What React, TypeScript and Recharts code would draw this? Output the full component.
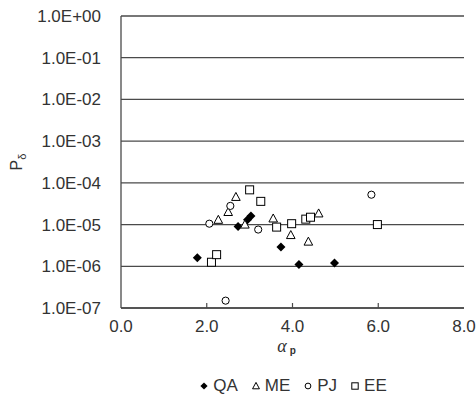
import React from 'react'
import {
  ScatterChart,
  Scatter,
  XAxis,
  YAxis,
  CartesianGrid,
  Legend,
} from 'recharts'

type Pt = { a: number; p: number }

// alpha_p vs P (log scale)
const QA: Pt[] = [
  { a: 1.78, p: 1.6e-6 },
  { a: 2.73, p: 9.0e-6 },
  { a: 2.95, p: 1.3e-5 },
  { a: 3.03, p: 1.6e-5 },
  { a: 3.73, p: 2.9e-6 },
  { a: 4.15, p: 1.1e-6 },
  { a: 4.98, p: 1.2e-6 },
]

const ME: Pt[] = [
  { a: 2.27, p: 1.3e-5 },
  { a: 2.5, p: 2.0e-5 },
  { a: 2.68, p: 4.6e-5 },
  { a: 2.89, p: 1.0e-5 },
  { a: 3.55, p: 1.4e-5 },
  { a: 3.96, p: 5.6e-6 },
  { a: 4.37, p: 3.9e-6 },
  { a: 4.61, p: 1.85e-5 },
]

const PJ: Pt[] = [
  { a: 2.06, p: 1.05e-5 },
  { a: 2.55, p: 2.8e-5 },
  { a: 3.2, p: 7.6e-6 },
  { a: 2.44, p: 1.5e-7 },
  { a: 5.84, p: 5.2e-5 },
]

const EE: Pt[] = [
  { a: 2.11, p: 1.25e-6 },
  { a: 2.23, p: 1.9e-6 },
  { a: 3.0, p: 6.8e-5 },
  { a: 3.26, p: 3.6e-5 },
  { a: 3.63, p: 8.7e-6 },
  { a: 3.98, p: 1.05e-5 },
  { a: 4.31, p: 1.35e-5 },
  { a: 4.42, p: 1.5e-5 },
  { a: 5.98, p: 1.0e-5 },
]

const X_TICKS = [0, 2, 4, 6, 8]
const Y_TICKS = [1e-7, 1e-6, 1e-5, 1e-4, 1e-3, 1e-2, 1e-1, 1]

const SERIES = [
  { key: 'QA', data: QA, shape: 'diamond' },
  { key: 'ME', data: ME, shape: 'triangle' },
  { key: 'PJ', data: PJ, shape: 'circle' },
  { key: 'EE', data: EE, shape: 'square' },
]

const FONT = '"Liberation Sans", Arial, sans-serif'
const INK = '#333'
const LINE = '#4a4a4a'

function fmtExp(v: number) {
  const e = Math.round(Math.log10(v))
  return `1.0E${e < 0 ? '-' : '+'}${String(Math.abs(e)).padStart(2, '0')}`
}

function Marker({ kind, cx, cy, s = 1 }: { kind: string; cx: number; cy: number; s?: number }) {
  if (kind === 'diamond') {
    const r = 4.5 * s
    return <path d={`M${cx},${cy - r}L${cx + r},${cy}L${cx},${cy + r}L${cx - r},${cy}Z`} fill="#000" />
  }
  if (kind === 'triangle') {
    const w = 4.3 * s
    return (
      <path
        d={`M${cx},${cy - 4.5 * s}L${cx + w},${cy + 3.5 * s}L${cx - w},${cy + 3.5 * s}Z`}
        fill="#fff"
        stroke="#000"
        strokeWidth={1}
      />
    )
  }
  if (kind === 'circle') {
    return <circle cx={cx} cy={cy} r={3.6 * s} fill="#fff" stroke="#000" strokeWidth={1} />
  }
  const h = 4 * s
  return <rect x={cx - h} y={cy - h} width={2 * h} height={2 * h} fill="#fff" stroke="#000" strokeWidth={1} />
}

// eslint-disable-next-line @typescript-eslint/no-explicit-any
function XTick({ x, y, payload }: any) {
  const v = payload.value
  return (
    <g>
      {v !== 0 && v !== 8 && <line x1={x} y1={y} x2={x} y2={y - 5} stroke={LINE} strokeWidth={1.2} />}
      <text x={x} y={y + 24} textAnchor="middle" fontSize={17} fill={INK} fontFamily={FONT}>
        {v.toFixed(1)}
      </text>
    </g>
  )
}

// eslint-disable-next-line @typescript-eslint/no-explicit-any
function YTick({ x, y, payload }: any) {
  return (
    <text x={x} y={y + 6} textAnchor="end" fontSize={17} fill={INK} fontFamily={FONT}>
      {fmtExp(payload.value)}
    </text>
  )
}

// eslint-disable-next-line @typescript-eslint/no-explicit-any
function YLabel({ viewBox }: any) {
  const x = viewBox.x + 22
  const y = viewBox.y + viewBox.height / 2
  return (
    <text x={x} y={y} transform={`rotate(-90 ${x} ${y})`} textAnchor="middle" fontSize={16} fill={INK} fontFamily={FONT}>
      P<tspan fontSize={11} dy={4}>δ</tspan>
    </text>
  )
}

// eslint-disable-next-line @typescript-eslint/no-explicit-any
function XLabel({ viewBox }: any) {
  const x = viewBox.x + viewBox.width / 2 - 6
  const y = viewBox.y + 44
  return (
    <text x={x} y={y} textAnchor="middle" fill={INK}>
      <tspan fontSize={18} fontStyle="italic" fontFamily='"Liberation Serif", serif'>α</tspan>
      <tspan fontSize={10} fontWeight="bold" fontFamily={FONT} dx={3} dy={2}>p</tspan>
    </text>
  )
}

function LegendBox() {
  return (
    <div
      style={{
        display: 'flex',
        justifyContent: 'center',
        gap: 12,
        fontFamily: FONT,
        fontSize: 17,
        color: INK,
        width: 343,
        marginLeft: 121,
      }}
    >
      {SERIES.map((s) => (
        <span key={s.key} style={{ display: 'inline-flex', alignItems: 'center' }}>
          <svg width={12} height={12} style={{ marginRight: 3 }}>
            <Marker kind={s.shape} cx={6} cy={6} s={0.8} />
          </svg>
          {s.key}
        </span>
      ))}
    </div>
  )
}

export default function App() {
  return (
    <div style={{ position: 'absolute', left: 0, top: 0, width: 476, height: 405, background: '#fff' }}>
      <ScatterChart width={476} height={405} margin={{ top: 16, right: 12, left: 0, bottom: 0 }}>
        <CartesianGrid vertical={false} stroke={LINE} strokeWidth={1.3} />
        <XAxis
          type="number"
          dataKey="a"
          domain={[0, 8]}
          ticks={X_TICKS}
          interval={0}
          height={97}
          tickSize={0}
          tickMargin={0}
          tick={<XTick />}
          axisLine={{ stroke: LINE, strokeWidth: 1.3 }}
          label={<XLabel />}
        />
        <YAxis
          type="number"
          dataKey="p"
          scale="log"
          domain={[1e-7, 1]}
          ticks={Y_TICKS}
          interval={0}
          allowDataOverflow
          width={121}
          tickSize={0}
          tickMargin={20}
          tick={<YTick />}
          axisLine={{ stroke: LINE, strokeWidth: 1.3 }}
          label={<YLabel />}
        />
        <YAxis yAxisId="frame" orientation="right" width={0} tick={false} tickLine={false} axisLine={{ stroke: LINE, strokeWidth: 1.3 }} />
        <Legend
          layout="vertical"
          align="center"
          verticalAlign="middle"
          content={<LegendBox />}
          wrapperStyle={{ top: 376, left: 0, width: 476 }}
        />
        {SERIES.map((s) => (
          <Scatter
            key={s.key}
            name={s.key}
            data={s.data}
            isAnimationActive={false}
            // eslint-disable-next-line @typescript-eslint/no-explicit-any
            shape={(props: any) => <Marker kind={s.shape} cx={props.cx} cy={props.cy} />}
          />
        ))}
      </ScatterChart>
    </div>
  )
}
